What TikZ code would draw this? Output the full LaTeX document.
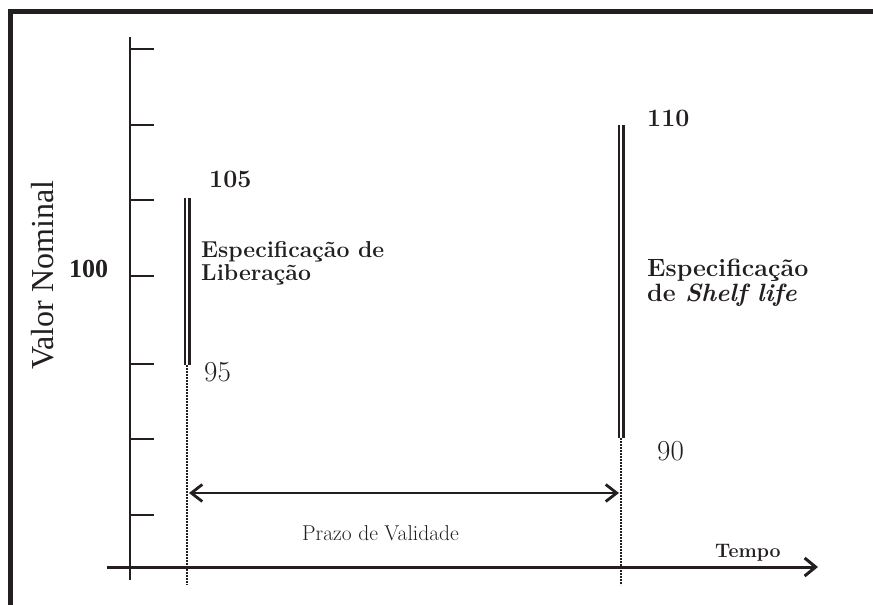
\documentclass[tikz,border=0pt]{standalone}
\usepackage{fontspec}
\newfontfamily\timesfont{Liberation Serif}
\usetikzlibrary{arrows.meta}
\definecolor{ink}{HTML}{231F20}
\tikzset{
    % Frame round the figure
    frameline/.style={line width=5pt, draw=ink},
    % Axis styles
    axisline/.style={line width=1.5pt, draw=ink},
    tickmark/.style={line width=1.5pt, draw=ink},
    timeaxis/.style={
        -{Straight Barb[length=11pt, width=18pt]},
        line width=3pt,
        draw=ink
    },
    % Specification bars
    specbar/.style={
        draw=ink,
        double=white,
        double distance=1.4pt,
        line width=2.8pt
    },
    guideline/.style={densely dotted, line width=2pt, draw=ink},
    % Arrow between the two limits
    spanarrow/.style={
        {Straight Barb[length=11pt, width=17pt]}-{Straight Barb[length=11pt, width=17pt]},
        line width=2.8pt,
        draw=ink
    },
    % Label styles
    limitlabel/.style={
        inner sep=0pt,
        text=ink,
        font=\fontsize{25}{25}\selectfont\bfseries
    },
    rawlabel/.style={
        inner sep=0pt,
        text=ink,
        font=\fontsize{29}{29}\selectfont
    },
    speclabel/.style={
        inner sep=0pt,
        text=ink,
        align=left,
        font=\fontsize{#1}{#1}\selectfont\bfseries
    }
}

\begin{document}
\begin{tikzpicture}[x=1pt, y=-1pt]
        \useasboundingbox (0,0) rectangle (873,605);

        % Frame
        \draw[frameline] (10,605) -- (10,11) -- (880,11);

        % Axes
        \coordinate (yTop) at (130,37);
        \coordinate (yBot) at (130,580);
        \coordinate (xStart) at (107,567);
        \coordinate (xEnd) at (818,567);
        \draw[axisline] (yBot) -- (yTop);
        \foreach \y in {49,125,200,276,364,439,515} {
            \draw[tickmark] (130,\y) -- ++(24,0);
        }
        \draw[timeaxis] (xStart) -- (xEnd);
        \node[text=ink, inner sep=0pt, anchor=base west, rotate=90,
              font=\timesfont\fontsize{32}{32}\selectfont] (yLabel) at (53,370) {Valor Nominal};
        \node[text=ink, inner sep=0pt, anchor=base west,
              font=\timesfont\fontsize{26}{26}\selectfont\bfseries] (nominal) at (69,277) {100};
        \node[text=ink, inner sep=0pt, anchor=base west,
              font=\fontsize{19.5}{19.5}\selectfont\bfseries] (xLabel) at (715,557) {Tempo};

        % Release specification
        \coordinate (relTop) at (187,198);
        \coordinate (relBot) at (187,365);
        \coordinate (relFoot) at (187,585);
        \draw[specbar] (relTop) -- (relBot);
        \draw[guideline] (relBot) -- (relFoot);
        \node[limitlabel, anchor=base west] (relMax) at (209,187) {105};
        \node[rawlabel, anchor=base west] (relMin) at (204,381) {95};
        \node[speclabel=23, anchor=north west] (relText) at (201,241) {Especificação de\\Liberação};

        % Shelf life specification
        \coordinate (shelfTop) at (621,125);
        \coordinate (shelfBot) at (621,438);
        \coordinate (shelfFoot) at (621,585);
        \draw[specbar] (shelfTop) -- (shelfBot);
        \draw[guideline] (shelfBot) -- (shelfFoot);
        \node[limitlabel, anchor=base west] (shelfMax) at (647,126) {110};
        \node[rawlabel, anchor=base west] (shelfMin) at (657,460) {90};
        \node[speclabel=25, anchor=north west] (shelfText) at (647,259) {Especificação\\de \textit{Shelf life}};

        % Shelf life span
        \coordinate (spanL) at (189,493);
        \coordinate (spanR) at (619,493);
        \draw[spanarrow] (spanL) -- (spanR);
        \node[text=ink, inner sep=0pt, anchor=base west,
              font=\fontsize{21.5}{21.5}\selectfont] (spanText) at (302,540) {Prazo de Validade};

\end{tikzpicture}
\end{document}
